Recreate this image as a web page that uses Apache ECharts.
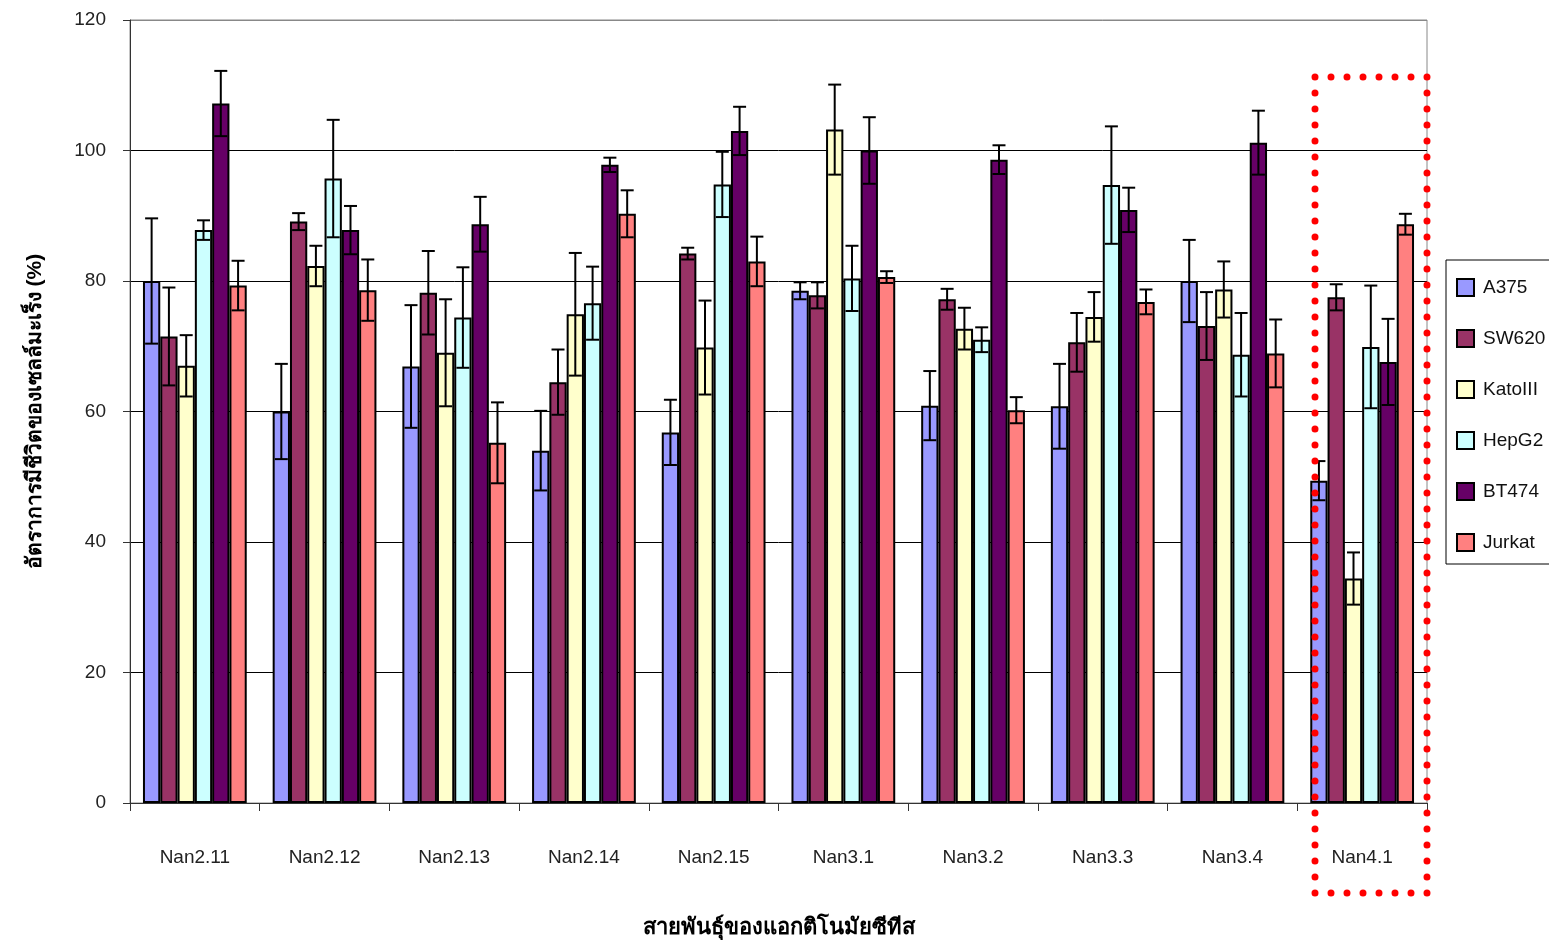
<!DOCTYPE html>
<html>
<head>
<meta charset="utf-8">
<script src="https://cdn.jsdelivr.net/npm/echarts@6/dist/echarts.min.js"></script>
<style>
  html, body { margin: 0; padding: 0; background: #fff; }
  #chart { width: 1549px; height: 945px; }
</style>
</head>
<body>
<div id="chart"></div>
<script>
// Actinomycete strains tested
const categories = ['Nan2.11', 'Nan2.12', 'Nan2.13', 'Nan2.14', 'Nan2.15', 'Nan3.1', 'Nan3.2', 'Nan3.3', 'Nan3.4', 'Nan4.1'];

// Cell line names
const cellLines = ['A375', 'SW620', 'KatoIII', 'HepG2', 'BT474', 'Jurkat'];

// Mean survival (%) per cell line, one value per strain
const A375 = [80.0, 60.0, 66.9, 54.0, 56.8, 78.5, 60.9, 60.8, 80.0, 49.4];
const SW620 = [71.5, 89.1, 78.2, 64.5, 84.2, 77.8, 77.2, 70.6, 73.1, 77.5];
const KatoIII = [67.0, 82.3, 69.0, 74.9, 69.8, 103.2, 72.7, 74.5, 78.7, 34.4];
const HepG2 = [87.8, 95.7, 74.4, 76.6, 94.8, 80.4, 71.0, 94.7, 68.7, 69.9];
const BT474 = [107.2, 87.8, 88.7, 97.8, 103.0, 100.0, 98.6, 90.9, 101.2, 67.6];
const Jurkat = [79.3, 78.6, 55.2, 90.3, 83.0, 80.6, 60.2, 76.8, 68.9, 88.7];

// Error (± SD) per cell line
const A375Err = [9.6, 7.3, 9.4, 6.1, 5.0, 1.3, 5.3, 6.5, 6.3, 3.0];
const SW620Err = [7.5, 1.3, 6.4, 5.0, 0.9, 2.0, 1.6, 4.5, 5.2, 2.0];
const KatoIIIErr = [4.7, 3.1, 8.2, 9.4, 7.2, 6.9, 3.2, 3.8, 4.3, 4.0];
const HepG2Err = [1.5, 9.0, 7.7, 5.6, 5.0, 5.0, 1.9, 9.0, 6.4, 9.4];
const BT474Err = [5.0, 3.7, 4.2, 1.1, 3.7, 5.1, 2.2, 3.4, 4.9, 6.6];
const JurkatErr = [3.8, 4.7, 6.2, 3.6, 3.8, 0.9, 2.0, 1.9, 5.2, 1.6];

// Y-axis ticks
const yTicks = { min: 0, max: 120, interval: 20 };

const means = [A375, SW620, KatoIII, HepG2, BT474, Jurkat];
const errors = [A375Err, SW620Err, KatoIIIErr, HepG2Err, BT474Err, JurkatErr];
const colors = ['#9999FF', '#993366', '#FFFFCC', '#CCFFFF', '#660066', '#FF8080'];

const FONT = "'Liberation Sans', Arial, 'Noto Sans', 'DejaVu Sans', sans-serif";
const CAT_GAP = 0.2;
const nSeries = cellLines.length;

const barSeries = cellLines.map((name, i) => ({
  name: name,
  type: 'bar',
  data: means[i],
  barGap: '0%',
  barCategoryGap: (CAT_GAP * 100) + '%',
  itemStyle: { color: colors[i], borderColor: '#000', borderWidth: 2 },
  z: 2
}));

// Error bars drawn on top of each bar
const errorSeries = cellLines.map((name, i) => ({
  name: name + ' error',
  type: 'custom',
  data: means[i].map((v, k) => [k, v, errors[i][k]]),
  z: 5,
  silent: true,
  renderItem: function (params, api) {
    const k = api.value(0);
    const v = api.value(1);
    const e = api.value(2);
    const band = api.size([1, 0])[0];
    const barW = band * (1 - CAT_GAP) / nSeries;
    const dx = (i - (nSeries - 1) / 2) * barW;
    const hi = api.coord([k, v + e]);
    const lo = api.coord([k, v - e]);
    const x = hi[0] + dx;
    const cap = 6.5;
    const style = { stroke: '#000', lineWidth: 2, fill: null };
    return {
      type: 'group',
      children: [
        { type: 'line', shape: { x1: x, y1: hi[1], x2: x, y2: lo[1] }, style: style },
        { type: 'line', shape: { x1: x - cap, y1: hi[1], x2: x + cap, y2: hi[1] }, style: style },
        { type: 'line', shape: { x1: x - cap, y1: lo[1], x2: x + cap, y2: lo[1] }, style: style }
      ]
    };
  }
}));

const chart = echarts.init(document.getElementById('chart'), null, { renderer: 'canvas' });

chart.setOption({
  backgroundColor: '#fff',
  animation: false,
  textStyle: { fontFamily: FONT },
  grid: {
    left: 130, right: 122, top: 20, bottom: 142,
    show: true, borderColor: '#888', borderWidth: 1, backgroundColor: 'transparent'
  },
  legend: {
    data: cellLines,
    orient: 'vertical',
    left: 1446,
    top: 260,
    padding: [18, 60, 12, 10],
    itemGap: 32,
    itemWidth: 17,
    itemHeight: 17,
    borderColor: '#000',
    borderWidth: 1,
    backgroundColor: '#fff',
    icon: 'rect',
    itemStyle: { borderColor: '#000', borderWidth: 2 },
    textStyle: { fontSize: 19, color: '#111', fontFamily: FONT, padding: [0, 0, 0, 4] }
  },
  xAxis: {
    type: 'category',
    data: categories,
    boundaryGap: true,
    name: 'สายพันธุ์ของแอกติโนมัยซีทีส',
    nameLocation: 'middle',
    nameGap: 114,
    nameTextStyle: { fontSize: 22, fontWeight: 'bold', color: '#000', fontFamily: FONT },
    axisLine: { show: true, lineStyle: { color: '#333', width: 1 } },
    axisTick: { show: true, alignWithLabel: false, inside: false, length: 8, lineStyle: { color: '#333' } },
    axisLabel: { margin: 45, fontSize: 19, color: '#222', fontFamily: FONT },
    splitLine: { show: false }
  },
  yAxis: {
    type: 'value',
    min: yTicks.min,
    max: yTicks.max,
    interval: yTicks.interval,
    name: 'อัตราการมีชีวิตของเซลล์มะเร็ง (%)',
    nameLocation: 'middle',
    nameRotate: 90,
    nameGap: 84,
    nameTextStyle: { fontSize: 21, fontWeight: 'bold', color: '#000', fontFamily: FONT },
    axisLine: { show: true, lineStyle: { color: '#333', width: 1 } },
    axisTick: { show: true, inside: false, length: 7, lineStyle: { color: '#333' } },
    axisLabel: { margin: 24, fontSize: 19, color: '#222', fontFamily: FONT },
    splitLine: {
      show: true,
      lineStyle: { color: ['#000', '#000', '#000', '#000', '#000', '#000', '#888'], width: 1 }
    }
  },
  // Red dotted frame highlighting the Nan4.1 group
  graphic: [{
    type: 'rect',
    z: 100,
    shape: { x: 1315, y: 77, width: 112, height: 816 },
    style: { fill: 'none', stroke: '#ff0000', lineWidth: 7, lineDash: [0, 16], lineCap: 'round' }
  }],
  series: barSeries.concat(errorSeries)
});
</script>
</body>
</html>
